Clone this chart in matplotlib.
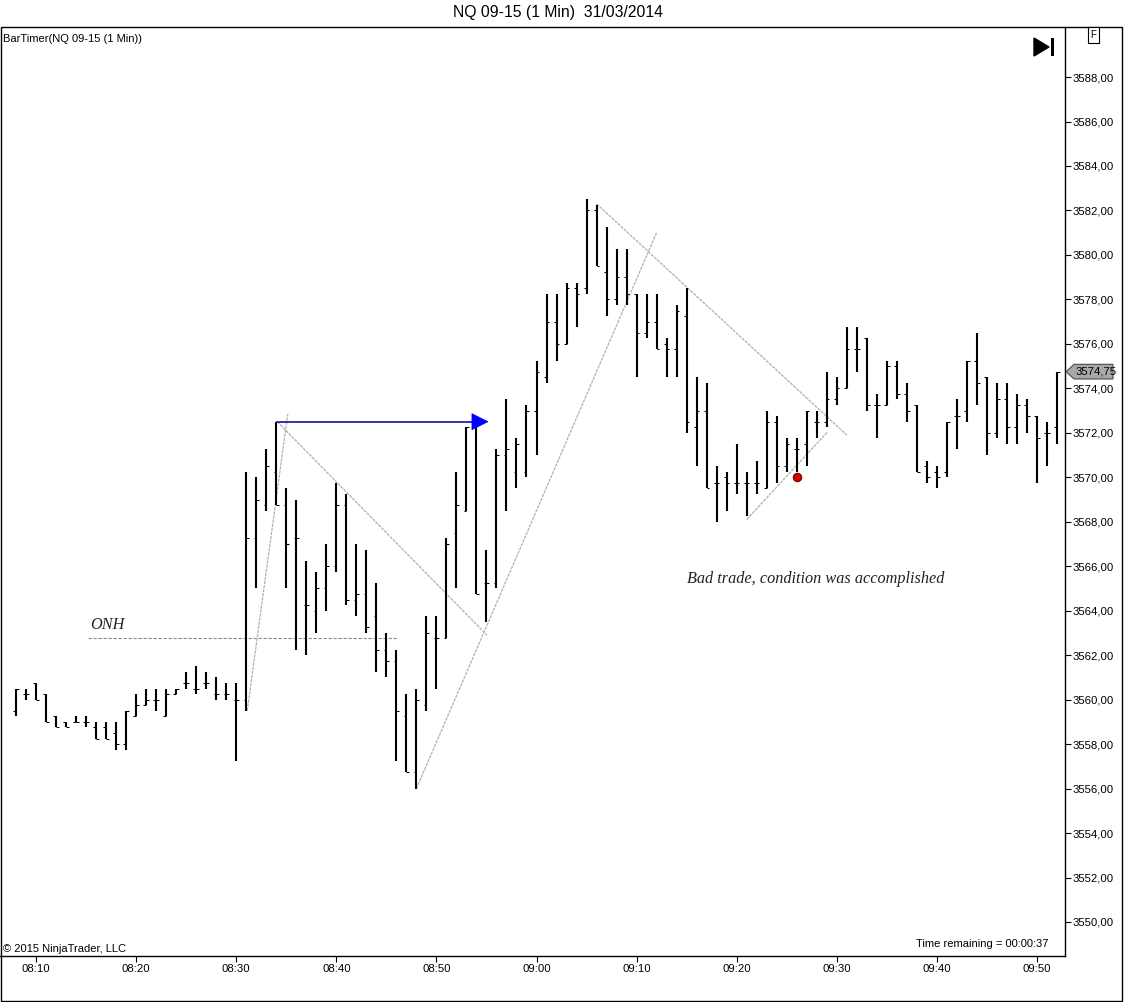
import numpy as np
import matplotlib
matplotlib.use("Agg")
import matplotlib.pyplot as plt
from matplotlib.patches import Polygon, Rectangle
from matplotlib.transforms import blended_transform_factory
from matplotlib.ticker import FixedLocator, FixedFormatter

plt.rcParams['font.family'] = ['Liberation Sans', 'DejaVu Sans']

# ---------------- data (NQ 09-15, 1 min bars, 31/03/2014) ----------------
start_time = "08:08"
opens = [3559.5, 3560.25, 3560.75, 3560.25, 3559.25, 3559.0, 3559.0, 3559.0, 3558.75, 3558.75,
         3558.5, 3558.0, 3559.25, 3559.75, 3560.0, 3559.25, 3560.25, 3560.75, 3560.5, 3560.75,
         3560.25, 3560.25, 3560.0, 3560.0, 3567.25, 3568.75, 3570.25, 3568.75, 3567.25, 3564.25,
         3564.0, 3565.0, 3566.0, 3568.75, 3564.5, 3564.75, 3563.75, 3562.25, 3561.75, 3559.25,
         3556.75, 3559.75, 3562.75, 3562.75, 3567.5, 3568.5, 3572.25, 3565.25, 3565.25, 3571.0,
         3570.25, 3570.25, 3573.0, 3574.5, 3577.0, 3576.0, 3578.5, 3578.5, 3582.0, 3579.25,
         3578.0, 3579.0, 3578.25, 3576.5, 3577.0, 3576.0, 3575.75, 3577.25, 3572.25, 3573.0,
         3569.75, 3570.0, 3569.75, 3569.75, 3569.75, 3569.5, 3572.5, 3570.5, 3571.25, 3571.5,
         3572.5, 3572.5, 3573.5, 3574.0, 3575.75, 3576.25, 3573.25, 3573.25, 3575.0, 3573.75,
         3573.25, 3570.5, 3570.25, 3570.25, 3572.75, 3573.0, 3575.25, 3574.5, 3572.0, 3573.5,
         3572.25, 3573.25, 3572.75, 3572.0, 3572.25]
highs = [3560.5, 3560.5, 3560.75, 3560.25, 3559.25, 3559.0, 3559.25, 3559.25, 3559.0, 3559.0,
         3559.0, 3559.5, 3560.25, 3560.5, 3560.5, 3560.5, 3560.5, 3561.25, 3561.5, 3561.25,
         3561.0, 3560.75, 3560.75, 3570.25, 3570.0, 3571.25, 3572.5, 3569.5, 3569.0, 3566.25,
         3565.75, 3567.0, 3569.75, 3569.25, 3567.0, 3566.75, 3565.25, 3563.0, 3562.25, 3560.25,
         3560.5, 3563.75, 3563.75, 3567.25, 3570.25, 3572.25, 3572.5, 3566.75, 3571.25, 3573.5,
         3571.75, 3573.25, 3575.25, 3578.25, 3578.25, 3578.75, 3578.75, 3582.5, 3582.25, 3581.25,
         3580.25, 3580.25, 3578.25, 3578.25, 3578.25, 3576.25, 3577.75, 3578.5, 3574.5, 3574.25,
         3570.5, 3570.25, 3571.5, 3570.25, 3570.75, 3573.0, 3572.75, 3571.75, 3571.75, 3573.0,
         3573.0, 3574.75, 3574.5, 3576.75, 3576.75, 3576.25, 3573.75, 3575.25, 3575.25, 3574.25,
         3573.25, 3570.75, 3570.5, 3572.5, 3573.5, 3575.25, 3576.5, 3574.5, 3574.25, 3574.25,
         3573.75, 3573.5, 3572.75, 3572.5, 3574.75]
lows = [3559.25, 3560.0, 3560.0, 3559.0, 3558.75, 3558.75, 3559.0, 3558.75, 3558.25, 3558.25,
        3557.75, 3557.75, 3559.25, 3559.75, 3559.5, 3559.25, 3560.25, 3560.5, 3560.25, 3560.5,
        3560.0, 3560.0, 3557.25, 3559.5, 3565.0, 3568.5, 3568.75, 3565.0, 3562.25, 3562.0,
        3563.0, 3564.0, 3565.75, 3564.25, 3563.75, 3563.0, 3561.25, 3561.0, 3557.25, 3556.75,
        3556.0, 3559.5, 3560.5, 3562.75, 3565.0, 3568.5, 3564.75, 3563.5, 3565.0, 3568.5,
        3569.5, 3570.0, 3571.0, 3574.25, 3575.25, 3576.0, 3576.75, 3578.25, 3579.5, 3577.25,
        3577.75, 3577.75, 3574.5, 3576.25, 3575.75, 3574.5, 3574.5, 3572.0, 3570.5, 3569.5,
        3568.0, 3568.5, 3569.25, 3568.25, 3569.25, 3569.5, 3569.75, 3570.25, 3570.25, 3570.5,
        3571.75, 3572.25, 3573.25, 3574.0, 3574.75, 3573.0, 3571.75, 3573.25, 3573.5, 3572.5,
        3570.25, 3569.75, 3569.5, 3570.0, 3571.25, 3572.5, 3573.25, 3571.0, 3571.75, 3571.5,
        3571.5, 3572.0, 3569.75, 3570.5, 3571.5]
closes = [3560.5, 3560.25, 3560.0, 3559.0, 3558.75, 3558.75, 3559.0, 3559.0, 3558.25, 3558.25,
          3558.0, 3559.5, 3559.75, 3560.0, 3560.0, 3560.25, 3560.5, 3560.75, 3560.5, 3560.75,
          3560.25, 3560.25, 3560.0, 3567.25, 3569.0, 3570.5, 3568.75, 3567.0, 3567.25, 3564.25,
          3565.0, 3566.0, 3568.75, 3564.5, 3564.75, 3563.25, 3562.25, 3561.75, 3559.5, 3556.75,
          3560.0, 3563.0, 3562.75, 3567.0, 3568.75, 3572.25, 3564.75, 3565.25, 3571.0, 3571.25,
          3571.5, 3573.0, 3574.75, 3577.0, 3576.0, 3578.5, 3578.25, 3582.0, 3579.5, 3578.0,
          3579.0, 3578.25, 3576.5, 3577.0, 3575.75, 3575.75, 3577.5, 3572.5, 3573.0, 3569.5,
          3569.75, 3569.75, 3569.75, 3569.75, 3569.75, 3572.5, 3570.5, 3571.5, 3571.25, 3573.0,
          3572.5, 3573.5, 3574.0, 3575.75, 3575.75, 3573.25, 3573.25, 3575.0, 3573.75, 3573.0,
          3570.25, 3570.0, 3570.0, 3572.5, 3572.75, 3575.25, 3574.25, 3572.0, 3573.5, 3572.25,
          3573.25, 3572.75, 3571.75, 3572.0, 3574.75]

x_tick_labels = ["08:10", "08:20", "08:30", "08:40", "08:50", "09:00",
                 "09:10", "09:20", "09:30", "09:40", "09:50"]
y_ticks = list(range(3550, 3590, 2))

# drawing objects (minutes after 08:00, price)
onh_level = 3562.75
onh_span = (15.2, 46.1)
trendlines = [((31.1, 3559.5), (35.15, 3572.85)),
              ((34.1, 3572.5), (55.05, 3562.9)),
              ((48.0, 3556.0), (72.0, 3581.0)),
              ((66.0, 3582.3), (91.0, 3571.9)),
              ((81.0, 3568.1), (89.1, 3572.05))]
blue_arrow = ((34.1, 3572.5), (55.15, 3572.5))
red_dot = (86.0, 3570.0)
onh_text_pos = (15.4, 3563.35)
bad_trade_pos = (75.0, 3565.42)


def to_min(s):
    h, m = s.split(":")
    return int(h) * 60 + int(m) - 8 * 60


n = len(closes)
xs = to_min(start_time) + np.arange(n)
o = np.array(opens); h = np.array(highs); l = np.array(lows); c = np.array(closes)

W, H = 1125, 1002
fig = plt.figure(figsize=(W / 100, H / 100), dpi=100)
fig.patch.set_facecolor("white")
ax = fig.add_axes([0, 46 / H, 1065 / W, 929 / H])
ax.set_xlim(6.4, 112.8)
ax.set_ylim(3548.47, 3590.25)

# bars
ax.vlines(xs, l, h, color="black", linewidth=1.5, zorder=3)
ax.hlines(o, xs - 0.27, xs, color="black", linewidth=0.75, zorder=3)
ax.hlines(c, xs, xs + 0.27, color="black", linewidth=0.75, zorder=3)

# ONH line
ax.plot(onh_span, [onh_level, onh_level], color="#8c8c8c", lw=0.8,
        linestyle=(0, (3, 1.5)), zorder=2)
ax.text(*onh_text_pos, "ONH", fontsize=11.7, style="italic",
        family=["Liberation Serif", "DejaVu Serif"], ha="left", va="center", color="#222222")

# trendlines
for (x0, y0), (x1, y1) in trendlines:
    ax.plot([x0, x1], [y0, y1], color="#b0b0b0", lw=0.9, linestyle=(0, (2.5, 0.8)), zorder=2)

# blue arrow
(ax0, ay0), (ax1, ay1) = blue_arrow
head_len = 1.6
head_half = 0.36
ax.plot([ax0, ax1 - head_len], [ay0, ay1], color="#1010a0", lw=1.2, zorder=4)
ax.add_patch(Polygon([(ax1 - head_len, ay1 + head_half), (ax1 - head_len, ay1 - head_half),
                      (ax1, ay1)], closed=True, facecolor="#0000ff", edgecolor="#0000ff",
                     lw=0.5, zorder=5))

# red dot
ax.plot(*red_dot, marker="o", markersize=6, color="#d40000", mec="#7a0000", mew=0.8, zorder=6)

ax.text(*bad_trade_pos, "Bad trade, condition was accomplished", fontsize=11.7,
        style="italic", family=["Liberation Serif", "DejaVu Serif"], ha="left",
        va="center", color="#222222")

# axes styling
for side in ["left", "top"]:
    ax.spines[side].set_visible(False)
for side in ["right", "bottom"]:
    ax.spines[side].set_color("black")
    ax.spines[side].set_linewidth(1.0)

ax.yaxis.tick_right()
ax.yaxis.set_major_locator(FixedLocator(y_ticks))
ax.yaxis.set_major_formatter(FixedFormatter([f"{v:.2f}".replace(".", ",") for v in y_ticks]))
ax.tick_params(axis="y", direction="out", length=4, width=0.8, pad=1.5, labelsize=8.2,
               colors="black")
ax.xaxis.set_major_locator(FixedLocator([to_min(s) for s in x_tick_labels]))
ax.xaxis.set_major_formatter(FixedFormatter(x_tick_labels))
ax.tick_params(axis="x", direction="out", length=4, width=0.8, pad=2, labelsize=8.2,
               colors="black")

# last price marker
last = c[-1]
tr = blended_transform_factory(ax.transAxes, ax.transData)
hh = 0.33
ax.add_patch(Polygon([(1.001, last), (1.0085, last + hh), (1.0451, last + hh),
                      (1.0451, last - hh), (1.0085, last - hh)], closed=True,
                     transform=tr, facecolor="#a8a8a8", edgecolor="#4a4a4a", lw=0.8,
                     clip_on=False, zorder=10))
ax.text(1.0095, last, f"{last:.2f}".replace(".", ","), transform=tr, fontsize=8.2,
        ha="left", va="center", color="black", clip_on=False, zorder=11)

# play-to-end icon
ax.add_patch(Polygon([(1034 / 1065, (956 - 38) / 929), (1034 / 1065, (956 - 56) / 929),
                      (1049 / 1065, (956 - 47) / 929)], closed=True, transform=ax.transAxes,
                     facecolor="black", edgecolor="black", zorder=10))
ax.add_patch(Rectangle((1050.5 / 1065, (956 - 56) / 929), 3.8 / 1065, 18 / 929,
                       transform=ax.transAxes, facecolor="black", edgecolor="none", zorder=10))

# outer frame
fig.add_artist(Rectangle((0.5 / W, 1 / H), 1121 / W, 974 / H, transform=fig.transFigure,
                         fill=False, edgecolor="black", lw=1.0))

# texts
fig.text(558 / W, 1 - 13 / H, "NQ 09-15 (1 Min)  31/03/2014", ha="center", va="center",
         fontsize=11.3, color="black")
fig.text(3 / W, 1 - 39 / H, "BarTimer(NQ 09-15 (1 Min))", ha="left", va="center",
         fontsize=8, color="black")
fig.text(3 / W, 1 - 949 / H, "\u00a9 2015 NinjaTrader, LLC", ha="left", va="center",
         fontsize=8, color="black")
fig.text(1048 / W, 1 - 944 / H, "Time remaining = 00:00:37", ha="right", va="center",
         fontsize=8, color="black")
fig.text(1093.5 / W, 1 - 35 / H, "F", ha="center", va="center", fontsize=7, color="black",
         bbox=dict(boxstyle="square,pad=0.3", facecolor="white", edgecolor="black", lw=0.8))

fig.savefig("out.png", dpi=100, facecolor="white")
